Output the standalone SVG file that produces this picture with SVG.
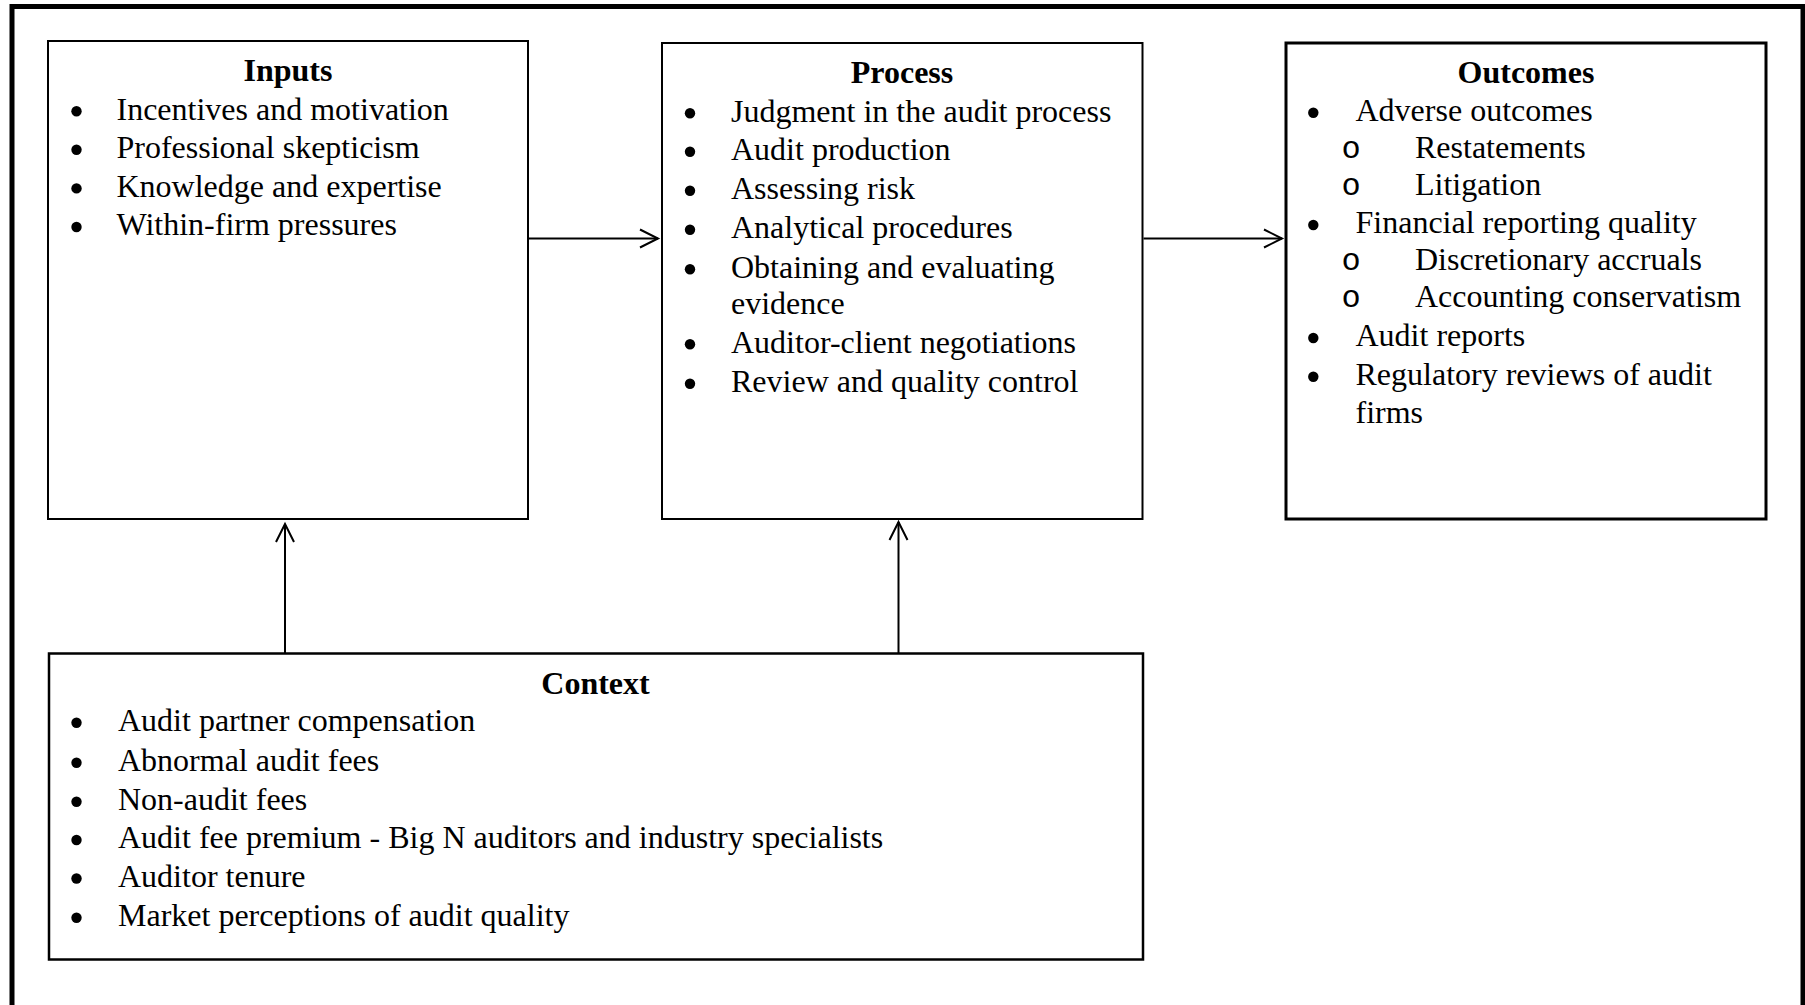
<svg xmlns="http://www.w3.org/2000/svg" width="1805" height="1005" viewBox="0 0 1805 1005">
<style>
  .box { fill: none; stroke: #000; }
  .t { font-family: "Liberation Serif", "Times New Roman", serif; font-size: 32px; fill: #000; }
  .h { font-family: "Liberation Serif", "Times New Roman", serif; font-size: 32px; font-weight: bold; fill: #000; text-anchor: middle; }
  .b { fill: #000; }
  .o { font-family: "Liberation Mono", "Courier New", monospace; font-size: 32px; fill: #000; text-anchor: middle; }
  .conn { stroke: #000; stroke-width: 2; fill: none; marker-end: url(#arrow); }
</style>
<defs>
  <marker id="arrow" markerUnits="userSpaceOnUse" markerWidth="24" markerHeight="24" viewBox="-20 -12 24 24" refX="0" refY="0" orient="auto">
    <path d="M -18 -9 L 0 0 L -18 9" fill="none" stroke="#000" stroke-width="2"/>
  </marker>
</defs>
<rect width="1805" height="1005" fill="#fff"/>
<rect id="frame" x="12" y="6.5" width="1791" height="1010" fill="none" stroke="#000" stroke-width="5"/>

<g id="inputs">
  <rect class="box" x="48" y="41" width="480" height="478" stroke-width="2"/>
  <text class="h" x="288" y="81">Inputs</text>
  <circle class="b" cx="76.5" cy="111.2" r="5.2"/><text class="t" x="116.5" y="119.5">Incentives and motivation</text>
  <circle class="b" cx="76.5" cy="149.7" r="5.2"/><text class="t" x="116.5" y="158">Professional skepticism</text>
  <circle class="b" cx="76.5" cy="188.4" r="5.2"/><text class="t" x="116.5" y="196.7">Knowledge and expertise</text>
  <circle class="b" cx="76.5" cy="227" r="5.2"/><text class="t" x="116.5" y="235.3">Within-firm pressures</text>
</g>

<g id="process">
  <rect class="box" x="662" y="43" width="480.5" height="476" stroke-width="2"/>
  <text class="h" x="902" y="82.7">Process</text>
  <circle class="b" cx="690" cy="113.2" r="5.2"/><text class="t" x="731" y="121.5">Judgment in the audit process</text>
  <circle class="b" cx="690" cy="151.7" r="5.2"/><text class="t" x="731" y="160">Audit production</text>
  <circle class="b" cx="690" cy="190.7" r="5.2"/><text class="t" x="731" y="199">Assessing risk</text>
  <circle class="b" cx="690" cy="229.7" r="5.2"/><text class="t" x="731" y="238">Analytical procedures</text>
  <circle class="b" cx="690" cy="269.2" r="5.2"/><text class="t" x="731" y="277.5">Obtaining and evaluating</text>
  <text class="t" x="731" y="313.7">evidence</text>
  <circle class="b" cx="690" cy="344.2" r="5.2"/><text class="t" x="731" y="352.5">Auditor-client negotiations</text>
  <circle class="b" cx="690" cy="383.7" r="5.2"/><text class="t" x="731" y="392">Review and quality control</text>
</g>

<g id="outcomes">
  <rect class="box" x="1286" y="43" width="480" height="476" stroke-width="3"/>
  <text class="h" x="1526" y="82.7">Outcomes</text>
  <circle class="b" cx="1313.3" cy="112.7" r="5.2"/><text class="t" x="1355.5" y="121">Adverse outcomes</text>
  <text class="o" x="1351" y="157.7">o</text><text class="t" x="1415" y="157.7">Restatements</text>
  <text class="o" x="1351" y="195">o</text><text class="t" x="1415" y="195">Litigation</text>
  <circle class="b" cx="1313.3" cy="225" r="5.2"/><text class="t" x="1355.5" y="233.3">Financial reporting quality</text>
  <text class="o" x="1351" y="270.3">o</text><text class="t" x="1415" y="270.3">Discretionary accruals</text>
  <text class="o" x="1351" y="307.3">o</text><text class="t" x="1415" y="307.3">Accounting conservatism</text>
  <circle class="b" cx="1313.3" cy="338" r="5.2"/><text class="t" x="1355.5" y="346.3">Audit reports</text>
  <circle class="b" cx="1313.3" cy="376.7" r="5.2"/><text class="t" x="1355.5" y="385">Regulatory reviews of audit</text>
  <text class="t" x="1355.5" y="423">firms</text>
</g>

<g id="context">
  <rect class="box" x="49" y="653.5" width="1094" height="306" stroke-width="2.5"/>
  <text class="h" x="595.5" y="693.5">Context</text>
  <circle class="b" cx="76.5" cy="722.7" r="5.2"/><text class="t" x="118" y="731">Audit partner compensation</text>
  <circle class="b" cx="76.5" cy="762.7" r="5.2"/><text class="t" x="118" y="771">Abnormal audit fees</text>
  <circle class="b" cx="76.5" cy="801.7" r="5.2"/><text class="t" x="118" y="810">Non-audit fees</text>
  <circle class="b" cx="76.5" cy="840" r="5.2"/><text class="t" x="118" y="848.3">Audit fee premium - Big N auditors and industry specialists</text>
  <circle class="b" cx="76.5" cy="878.5" r="5.2"/><text class="t" x="118" y="886.8">Auditor tenure</text>
  <circle class="b" cx="76.5" cy="917.7" r="5.2"/><text class="t" x="118" y="926">Market perceptions of audit quality</text>
</g>

<g id="connectors">
  <line class="conn" x1="529" y1="238.5" x2="658" y2="238.5"/>
  <line class="conn" x1="1143.5" y1="238.5" x2="1282" y2="238.5"/>
  <line class="conn" x1="285" y1="653" x2="285" y2="524"/>
  <line class="conn" x1="898.5" y1="653" x2="898.5" y2="522"/>
</g>
</svg>
